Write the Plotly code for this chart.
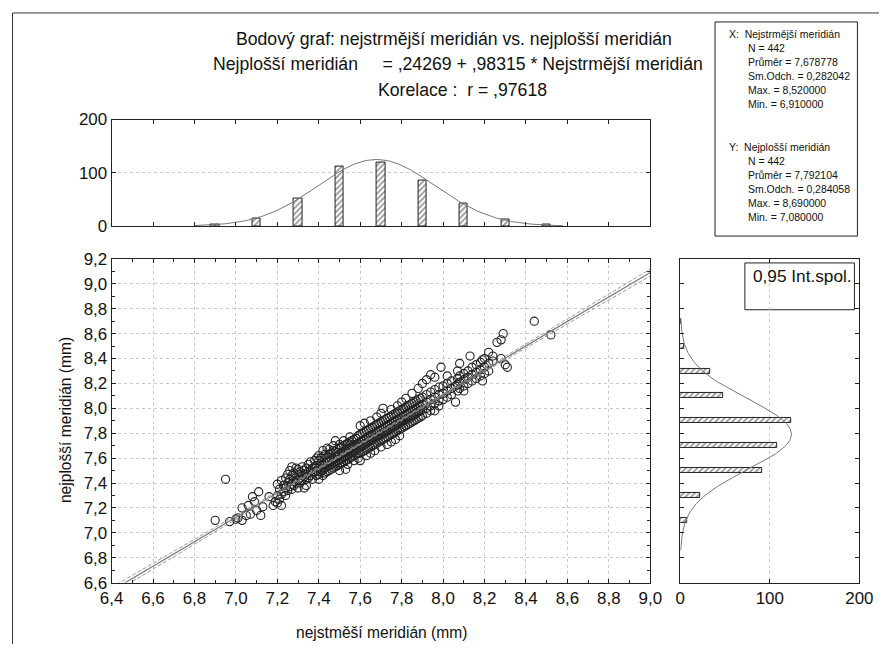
import numpy as np
import plotly.graph_objects as go

W, H = 893, 654
# positions below are given in reference-picture pixels; the photograph of the page
# comes out as 8 + 0.975 * page pixel, so convert back to page pixels
SC, OFF = 0.975, 8.0
def px(x):
    return ((x - OFF) / SC) / W
def py(y):
    return 1 - ((y - OFF) / SC) / H
def fs(s):
    return s / SC

FONT = "Liberation Sans, Arial, sans-serif"

# ---------------- data ----------------
n_obs = 442
x_mean, x_sd, x_max, x_min = 7.678778, 0.282042, 8.520000, 6.910000
y_mean, y_sd, y_max, y_min = 7.792104, 0.284058, 8.690000, 7.080000
intercept, slope, corr = 0.24269, 0.98315, 0.97618

hist_x_centers = [6.9, 7.1, 7.3, 7.5, 7.7, 7.9, 8.1, 8.3, 8.5]
hist_x_counts = [2, 15, 52, 111, 120, 85, 42, 12, 3]
hist_y_centers = [7.1, 7.3, 7.5, 7.7, 7.9, 8.1, 8.3, 8.5, 8.7]
hist_y_counts = [8, 22, 92, 108, 124, 48, 34, 5, 1]
bin_width = 0.2

x_ticks_range = [6.4, 9.0]
y_ticks_range = [6.6, 9.2]

# scatter points: (x, [y values at that x])
scatter_columns = [
    (6.90, [7.10]), (6.95, [7.43]), (6.97, [7.09]), (7.00, [7.11]), (7.01, [7.12]),
    (7.03, [7.10, 7.20]), (7.05, [7.14]), (7.06, [7.22]), (7.07, [7.15]), (7.08, [7.29]),
    (7.09, [7.25]), (7.10, [7.18]), (7.11, [7.33]), (7.12, [7.14]), (7.13, [7.21]),
    (7.16, [7.29]), (7.18, [7.22]), (7.19, [7.25]),
    (7.20, [7.39, 7.30, 7.24]), (7.21, [7.27, 7.35]), (7.22, [7.31, 7.42, 7.22]),
    (7.23, [7.33, 7.38]), (7.24, [7.30, 7.44, 7.36]), (7.25, [7.40, 7.34, 7.47]),
    (7.26, [7.37, 7.43, 7.50]), (7.27, [7.39, 7.46, 7.53, 7.35]), (7.28, [7.41, 7.48, 7.38]),
    (7.29, [7.44, 7.52, 7.40]), (7.30, [7.42, 7.47, 7.36, 7.51]), (7.31, [7.44, 7.49, 7.40]),
    (7.32, [7.46, 7.42, 7.53]), (7.33, [7.45, 7.50, 7.36]), (7.34, [7.47, 7.52, 7.43, 7.38]),
    (7.35, [7.49, 7.44, 7.55]), (7.36, [7.50, 7.46, 7.57]), (7.37, [7.52, 7.48, 7.43]),
    (7.38, [7.53, 7.49, 7.58]), (7.39, [7.54, 7.50, 7.46, 7.60]),
    (7.40, [7.52, 7.47, 7.58, 7.43, 7.62]), (7.41, [7.54, 7.49, 7.60, 7.51]),
    (7.42, [7.55, 7.50, 7.61, 7.46, 7.66]), (7.43, [7.56, 7.52, 7.63, 7.48]),
    (7.44, [7.57, 7.53, 7.60, 7.49, 7.68]), (7.45, [7.58, 7.54, 7.63, 7.50, 7.67]),
    (7.46, [7.59, 7.55, 7.64, 7.51]), (7.47, [7.60, 7.56, 7.66, 7.52, 7.70]),
    (7.48, [7.61, 7.57, 7.65, 7.53, 7.74]), (7.49, [7.62, 7.58, 7.67, 7.54]),
    (7.50, [7.63, 7.59, 7.68, 7.55, 7.71, 7.50]), (7.51, [7.64, 7.60, 7.69, 7.56]),
    (7.52, [7.65, 7.61, 7.70, 7.57, 7.74]), (7.53, [7.66, 7.62, 7.71, 7.58, 7.51]),
    (7.54, [7.67, 7.63, 7.72, 7.59, 7.55]), (7.55, [7.68, 7.64, 7.73, 7.60, 7.77]),
    (7.56, [7.69, 7.65, 7.74, 7.61]), (7.57, [7.70, 7.66, 7.75, 7.62, 7.58]),
    (7.58, [7.71, 7.67, 7.76, 7.63]), (7.59, [7.72, 7.68, 7.78, 7.64, 7.60]),
    (7.60, [7.73, 7.69, 7.79, 7.64, 7.58, 7.86]), (7.61, [7.74, 7.70, 7.80, 7.65]),
    (7.62, [7.75, 7.71, 7.81, 7.66, 7.88]), (7.63, [7.76, 7.72, 7.82, 7.67, 7.62]),
    (7.64, [7.77, 7.73, 7.83, 7.68]), (7.65, [7.78, 7.74, 7.84, 7.69, 7.90, 7.64]),
    (7.66, [7.79, 7.75, 7.85, 7.70]), (7.67, [7.80, 7.76, 7.86, 7.71, 7.66]),
    (7.68, [7.81, 7.77, 7.87, 7.72, 7.93]), (7.69, [7.82, 7.78, 7.88, 7.73]),
    (7.70, [7.83, 7.79, 7.89, 7.74, 7.69, 7.96]), (7.71, [7.84, 7.80, 7.90, 7.75, 8.00]),
    (7.72, [7.85, 7.81, 7.91, 7.76]), (7.73, [7.86, 7.82, 7.92, 7.77, 7.71]),
    (7.74, [7.87, 7.83, 7.93, 7.78]), (7.75, [7.88, 7.84, 7.94, 7.79, 7.99, 7.73]),
    (7.76, [7.89, 7.85, 7.95, 7.80]), (7.77, [7.90, 7.86, 7.96, 7.81, 7.75]),
    (7.78, [7.91, 7.87, 7.97, 7.82, 8.02]), (7.79, [7.92, 7.88, 7.98, 7.83, 7.78]),
    (7.80, [7.93, 7.89, 7.99, 7.84, 8.05]), (7.81, [7.94, 7.90, 8.00, 7.85]),
    (7.82, [7.95, 7.91, 8.01, 7.86, 8.08]), (7.83, [7.96, 7.92, 8.02, 7.87]),
    (7.84, [7.97, 7.93, 8.03, 7.88]), (7.85, [7.98, 7.94, 8.04, 7.89, 8.12]),
    (7.86, [7.99, 7.95, 8.05, 7.90]), (7.87, [8.00, 7.96, 8.06, 7.91]),
    (7.88, [8.01, 7.97, 8.07, 7.92, 8.16]), (7.89, [8.02, 7.98, 8.08, 7.93]),
    (7.90, [8.03, 7.99, 8.09, 7.94, 8.20]), (7.92, [8.05, 8.00, 8.11, 7.96, 8.23]),
    (7.94, [8.07, 8.02, 8.13, 7.98, 8.27]), (7.96, [8.09, 8.04, 8.15, 8.25, 7.98]),
    (7.98, [8.11, 8.06, 8.17, 8.02]), (7.99, [8.33]),
    (8.00, [8.12, 8.07, 8.18]), (8.02, [8.14, 8.09, 8.20, 8.26]),
    (8.04, [8.16, 8.11, 8.22]), (8.06, [8.18, 8.05]),
    (8.07, [8.19, 8.14, 8.24, 8.30]), (8.08, [8.21, 8.16, 8.26, 8.36]),
    (8.10, [8.23, 8.18, 8.28, 8.14]), (8.12, [8.25, 8.20, 8.30]), (8.13, [8.42]),
    (8.14, [8.27, 8.22, 8.33]), (8.16, [8.29, 8.24, 8.35]), (8.18, [8.31, 8.26, 8.37]),
    (8.19, [8.39, 8.22]),
    (8.20, [8.33, 8.28, 8.40]), (8.22, [8.36, 8.45, 8.30]), (8.24, [8.38, 8.42]),
    (8.26, [8.53]), (8.28, [8.55, 8.40]), (8.29, [8.60]), (8.30, [8.35]), (8.31, [8.33]),
    (8.44, [8.70]), (8.52, [8.59]),
]

scatter_x = [c[0] for c in scatter_columns for _ in c[1]]
scatter_y = [v for c in scatter_columns for v in c[1]]

# ---------------- fitted curves ----------------
line_x = np.linspace(x_ticks_range[0], x_ticks_range[1], 200)
line_y = intercept + slope * line_x
s_res = y_sd * np.sqrt(1 - corr ** 2) * np.sqrt((n_obs - 1) / (n_obs - 2))
sxx = (n_obs - 1) * x_sd ** 2
ci = 1.9653 * s_res * np.sqrt(1 / n_obs + (line_x - x_mean) ** 2 / sxx)

def normal_counts(v, m, s):
    return n_obs * bin_width / (s * np.sqrt(2 * np.pi)) * np.exp(-0.5 * ((v - m) / s) ** 2)

cx = np.linspace(6.80, 8.58, 200)
cy = np.linspace(6.86, 8.72, 200)

fig = go.Figure()

fig.add_trace(go.Scatter(
    x=scatter_x, y=scatter_y, mode="markers", xaxis="x", yaxis="y",
    marker=dict(symbol="circle-open", size=fs(8), color="#222", line=dict(width=1.1)),
    showlegend=False, hoverinfo="skip"))
fig.add_trace(go.Scatter(x=line_x, y=line_y, mode="lines", xaxis="x", yaxis="y",
                         line=dict(color="#777", width=1.2), showlegend=False))
fig.add_trace(go.Scatter(x=line_x, y=line_y + ci, mode="lines", xaxis="x", yaxis="y",
                         line=dict(color="#999", width=1, dash="4px,2px"), showlegend=False))
fig.add_trace(go.Scatter(x=line_x, y=line_y - ci, mode="lines", xaxis="x", yaxis="y",
                         line=dict(color="#999", width=1, dash="4px,2px"), showlegend=False))

hatch = dict(shape="/", fgcolor="#222", bgcolor="white", size=4, solidity=0.4)

fig.add_trace(go.Bar(x=hist_x_centers, y=hist_x_counts, width=0.04, xaxis="x2", yaxis="y2",
                     marker=dict(color="white", line=dict(color="#222", width=1), pattern=hatch),
                     showlegend=False))
fig.add_trace(go.Scatter(x=cx, y=normal_counts(cx, x_mean, x_sd), mode="lines",
                         xaxis="x2", yaxis="y2", line=dict(color="#777", width=1),
                         showlegend=False))

fig.add_trace(go.Bar(y=hist_y_centers, x=hist_y_counts, width=0.04, orientation="h",
                     xaxis="x3", yaxis="y3",
                     marker=dict(color="white", line=dict(color="#222", width=1), pattern=hatch),
                     showlegend=False))
fig.add_trace(go.Scatter(y=cy, x=normal_counts(cy, y_mean, y_sd), mode="lines",
                         xaxis="x3", yaxis="y3", line=dict(color="#777", width=1),
                         showlegend=False))

axis_common = dict(showline=True, linecolor="#222", linewidth=1, mirror="ticks",
                   ticks="inside", ticklen=4, tickcolor="#222", zeroline=False,
                   tickfont=dict(family=FONT, size=fs(16.5), color="#111"))
grid = dict(showgrid=True, gridcolor="#c8c8c8", griddash="dot", gridwidth=1)

sc_x_dom = [px(108), px(649)]
sc_y_dom = [py(584), py(259)]

fig.update_layout(
    width=W, height=H, autosize=False,
    margin=dict(l=0, r=0, t=0, b=0),
    paper_bgcolor="white", plot_bgcolor="white",
    separators=",.",
    bargap=0,
    font=dict(family=FONT, color="#111"),
    xaxis=dict(domain=sc_x_dom, range=x_ticks_range, tick0=6.4, dtick=0.2, tickformat=".1f",
               minor=dict(dtick=0.1, ticks="inside", ticklen=3, tickcolor="#222", showgrid=False),
               anchor="y", **axis_common, **grid),
    yaxis=dict(domain=sc_y_dom, range=y_ticks_range, tick0=6.6, dtick=0.2, tickformat=".1f",
               minor=dict(dtick=0.1, ticks="inside", ticklen=3, tickcolor="#222", showgrid=False),
               anchor="x", **axis_common, **grid),
    xaxis2=dict(domain=sc_x_dom, range=x_ticks_range, tick0=6.4, dtick=0.2,
                showticklabels=False, anchor="y2", showgrid=False, **axis_common),
    yaxis2=dict(domain=[py(226), py(119)], range=[0, 200], dtick=100,
                anchor="x2", **axis_common, **grid),
    xaxis3=dict(domain=[px(679), px(859)], range=[0, 200], dtick=100,
                anchor="y3", **axis_common, **grid),
    yaxis3=dict(domain=sc_y_dom, range=y_ticks_range, tick0=6.6, dtick=0.2,
                showticklabels=False, anchor="x3", showgrid=False, **axis_common),
)

ann = []
def text(x, y, s, size, xanchor="left", **kw):
    ann.append(dict(x=px(x), y=py(y), xref="paper", yref="paper", text=s, showarrow=False,
                    xanchor=xanchor, yanchor="middle",
                    font=dict(family=FONT, size=fs(size), color="#111"), **kw))

nb = "\u00a0"
text(452, 38, "Bodový graf: nejstrmější meridián vs. nejplošší meridián", 17.2, "center")
text(456, 63, "Nejplošší meridián" + nb * 5 + "= ,24269 + ,98315 * Nejstrmější meridián", 17.2, "center")
text(460, 89, "Korelace :" + nb * 2 + "r = ,97618", 17.2, "center")

text(379, 634, "nejstměší meridián (mm)", 15.2, "center")
text(62, 421, "nejplošší meridián (mm)", 15.2, "center", textangle=-90)

def fmt(v):
    return f"{v:.6f}".replace(".", ",")

x_lines = ["N = %d" % n_obs, "Průměr = " + fmt(x_mean), "Sm.Odch. = " + fmt(x_sd),
           "Max. = " + fmt(x_max), "Min. = " + fmt(x_min)]
y_lines = ["N = %d" % n_obs, "Průměr = " + fmt(y_mean), "Sm.Odch. = " + fmt(y_sd),
           "Max. = " + fmt(y_max), "Min. = " + fmt(y_min)]
text(726, 34, "X:" + nb * 2 + "Nejstrmější meridián", 10.2)
for i, s in enumerate(x_lines):
    text(745, 48 + 14 * i, s, 10.2)
text(726, 147, "Y:" + nb * 2 + "Nejplošší meridián", 10.2)
for i, s in enumerate(y_lines):
    text(745, 161 + 14 * i, s, 10.2)

text(750, 276, "0,95 Int.spol.", 16.8)

fig.update_layout(annotations=ann)

shapes = [
    dict(type="rect", xref="paper", yref="paper", x0=px(714), x1=px(857), y0=py(236), y1=py(21),
         line=dict(color="#222", width=1), fillcolor="rgba(0,0,0,0)"),
    dict(type="rect", xref="paper", yref="paper", x0=px(744), x1=px(854), y0=py(310), y1=py(263),
         line=dict(color="#222", width=1), fillcolor="white", layer="below"),
    dict(type="line", xref="paper", yref="paper", x0=0.0006, x1=1.0, y0=py(12), y1=py(12),
         line=dict(color="#333", width=1)),
    dict(type="line", xref="paper", yref="paper", x0=0.0006, x1=0.0006, y0=py(12), y1=0,
         line=dict(color="#333", width=1)),
]
fig.update_layout(shapes=shapes)

fig.write_html("out.html", config={"displayModeBar": False},
               post_script="document.body.style.margin='0';"
                           "document.documentElement.style.overflow='hidden';")
